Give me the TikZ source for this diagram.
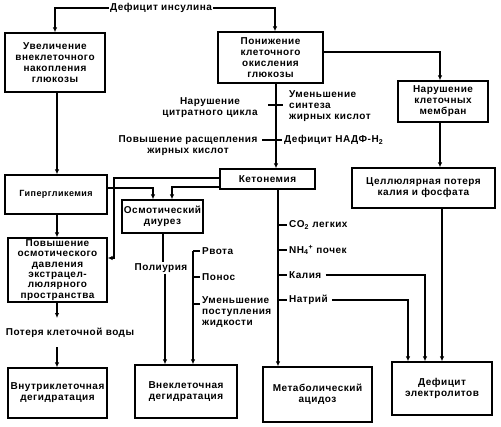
\documentclass[tikz,border=0pt]{standalone}
\usepackage{fontspec}
\setmainfont{Liberation Sans}[LetterSpace=5]
\usetikzlibrary{arrows.meta}
\begin{document}
\begin{tikzpicture}[x=1pt,y=-1pt,
  font=\bfseries\fontsize{10}{11}\selectfont,
  box/.style={draw,line width=1.3pt,inner sep=1pt,align=center},
  ln/.style={line width=1.3pt},
  arr/.style={line width=1.3pt,-{Latex[length=5pt,width=4.5pt]}},
  lbl/.style={inner sep=1pt,align=center},
  lbll/.style={inner sep=1pt,align=left,anchor=west}]
\useasboundingbox (0,0) rectangle (501,426);
% boxes
\node[box,minimum width=100pt,minimum height=59pt] (b1) at (55,62.5) {Увеличение\\внеклеточного\\накопления\\глюкозы};
\node[box,minimum width=105pt,minimum height=51pt] (b2) at (270.5,57.5) {Понижение\\клеточного\\окисления\\глюкозы};
\node[box,minimum width=90pt,minimum height=41pt] (b3) at (443,101.5) {Нарушение\\клеточных\\мембран};
\node[box,minimum width=143pt,minimum height=40pt] (b4) at (423.5,188) {Целлюлярная потеря\\калия и фосфата};
\node[box,minimum width=95pt,minimum height=20pt] (ket) at (267.5,179) {Кетонемия};
\node[box,minimum width=102pt,minimum height=39pt,font=\bfseries\fontsize{9}{10}\selectfont] (hyp) at (56,194.5) {Гипергликемия};
\node[box,minimum width=99pt,minimum height=64pt,font=\bfseries\fontsize{10}{10.3}\selectfont] (pov) at (57.5,270) {Повышение\\осмотического\\давления\\экстрацел-\\люлярного\\пространства};
\node[box,minimum width=99pt,minimum height=50pt] (vnu) at (57.5,393) {Внутриклеточная\\дегидратация};
\node[box,minimum width=81pt,minimum height=33pt,inner sep=0pt] (osm) at (162.5,216.5) {Осмотический\\диурез};
\node[box,minimum width=102pt,minimum height=53pt] (vne) at (186,391.5) {Внеклеточная\\дегидратация};
\node[box,minimum width=109pt,minimum height=55pt] (met) at (317.5,394.5) {Метаболический\\ацидоз};
\node[box,minimum width=100pt,minimum height=53pt] (def) at (442,388.5) {Дефицит\\электролитов};
% top label
\node[lbl] (ins) at (161,8) {Дефицит инсулина};
\draw[arr] (ins.west) -| (b1.north);
\draw[arr] (ins.east) -| (b2.north -| 275,0);
\draw[arr] (b2.east |- 0,52) -| (b3.north -| 440,0);
\draw[arr] (b3.south -| 440,0) -- (b4.north -| 440,0);
% central column
\draw[arr] (b2.south -| 276,0) -- (ket.north -| 276,0);
\coordinate (t1a) at (268,105); \coordinate (t1b) at (283,105);
\draw[ln] (t1a) -- (t1b);
\coordinate (t2a) at (262,140); \coordinate (t2b) at (282,140);
\draw[ln] (t2a) -- (t2b);
\node[lbl] (nar) at (210,108) {Нарушение\\цитратного цикла};
\node[lbll] (umsin) at (288,106) {Уменьшение\\синтеза\\жирных кислот};
\node[lbl] (povr) at (188,145.5) {Повышение расщепления\\жирных кислот};
\node[lbll] (nadf) at (283,140) {Дефицит НАДФ-Н\textsubscript{2}};
% left column
\draw[arr] (b1.south -| 57,0) -- (hyp.north -| 57,0);
\draw[arr] (hyp.south -| 57,0) -- (pov.north -| 57,0);
\coordinate (pv) at (57,318);
\draw[arr] (pov.south -| 57,0) -- (pv);
\node[lbl] (pkv) at (70,333) {Потеря клеточной воды};
\draw[arr] (57,347) -- (vnu.north -| 57,0);
% ketonemia branches
\draw[arr] (ket.west |- 0,178) -| (114,258) -- (pov.east |- 0,258);
\draw[arr] (ket.west |- 0,187) -| (osm.north -| 172,0);
\draw[arr] (hyp.east |- 0,188) -| (osm.north -| 153,0);
% osmotic diuresis
\node[lbl] (pol) at (161,268) {Полиурия};
\draw[ln] (osm.south -| 163,0) -- (pol.north -| 163,0);
\draw[arr] (pol.south -| 165,0) -- (vne.north -| 165,0);
\draw[arr] (193,251) -- (vne.north -| 193,0);
\draw[ln] (193,251) -- (200,251);
\draw[ln] (193,277) -- (200,277);
\draw[ln] (193,304) -- (200,304);
\node[lbll] (rv) at (201,251) {Рвота};
\node[lbll] (pn) at (201,277) {Понос};
\node[lbll] (um) at (201,312) {Уменьшение\\поступления\\жидкости};
% ketonemia column
\draw[arr] (ket.south -| 278,0) -- (met.north -| 278,0);
\draw[ln] (278,225) -- (287,225);
\draw[ln] (278,250) -- (287,250);
\draw[ln] (278,275) -- (287,275);
\draw[ln] (278,300) -- (287,300);
\node[lbll] (co) at (288,225) {CO\textsubscript{2} легких};
\node[lbll] (nh) at (288,250) {NH\textsubscript{4}\textsuperscript{+} почек};
\node[lbll] (ka) at (288,275) {Калия};
\node[lbll] (na) at (288,300) {Натрий};
\draw[arr] (ka.east) ++(3,0) -| (def.north -| 425,0);
\draw[arr] (na.east) ++(3,0) -| (def.north -| 408,0);
\draw[arr] (b4.south -| 442,0) -- (def.north -| 442,0);
\end{tikzpicture}
\end{document}
